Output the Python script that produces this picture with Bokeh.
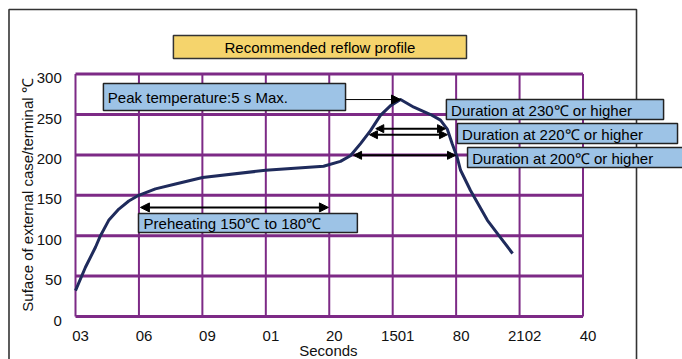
import math
from bokeh.plotting import figure
from bokeh.models import Range1d, Arrow, NormalHead
from bokeh.core.properties import value
from bokeh.embed import file_html
from bokeh.resources import INLINE

# ---- data ----
time_s = [30.0, 34.7, 39.5, 41.8, 45.7, 50.5, 55.2, 59.9, 67.8, 77.3,
          90.1, 119.9, 147.3, 155.3, 160.0, 164.8, 169.5, 174.2, 179.0, 183.7,
          190.0, 197.9, 202.6, 205.8, 208.1, 210.5, 212.1, 216.8, 224.8, 230.9,
          236.7]
temp_c = [32, 61, 86, 100, 119, 133, 143, 150, 158, 164,
          172, 181, 186, 192, 199, 214, 230, 249, 261, 268.5,
          259, 250, 243, 232, 214, 197, 181, 156, 119, 98,
          78]

x_ticks = [30, 60, 90, 120, 150, 180, 210, 240, 270]
x_labels = ["03", "06", "09", "01", "20", "1501", "80", "2102", "40"]
y_ticks = [0, 50, 100, 150, 200, 250, 300]
y_labels = ["0", "50", "100", "150", "200", "250", "300"]

title_text = "Recommended reflow profile"
peak_text = "Peak temperature:5 s  Max."
peak_time = 183.7
peak_temp = 268.5
preheat_text = "Preheating 150\u2103 to 180\u2103"
preheat_span = [60.7, 149.6]
preheat_level = 135.0
dur_texts = ["Duration at 230\u2103 or higher",
             "Duration at 220\u2103 or higher",
             "Duration at 200\u2103 or higher"]
dur_levels = [232.5, 225.0, 199.5]
dur_starts = [172.0, 169.0, 161.5]
dur_ends = [205.0, 205.9, 209.7]

FONT = value("Liberation Sans")
FS = "15px"
GRID = "#7d2a86"
BOX = "#9dc3e6"

p = figure(width=682, height=359, output_backend="svg", toolbar_location=None,
           x_range=Range1d(-5.468, 317.05), y_range=Range1d(-53.2, 391.1),
           x_axis_location=None, y_axis_location=None, min_border=0)
p.grid.visible = False
p.outline_line_color = None
p.background_fill_color = "white"
p.border_fill_color = "white"

# outer frame
p.quad(left=[-1.45], right=[295.3], top=[380.0], bottom=[-80],
       fill_color=None, line_color="#333333", line_width=1.6)

# grid
p.segment(x0=x_ticks, x1=x_ticks, y0=[y_ticks[0]] * len(x_ticks), y1=[y_ticks[-1]] * len(x_ticks),
          line_color=GRID, line_width=2)
p.segment(x0=[x_ticks[0]] * len(y_ticks), x1=[x_ticks[-1]] * len(y_ticks), y0=y_ticks, y1=y_ticks,
          line_color=GRID, line_width=3)

# tick labels
p.text(x=[x + 2.4 for x in x_ticks], y=[-24.5] * len(x_ticks), text=x_labels,
       text_font=FONT, text_font_size=FS, text_align="center", text_baseline="middle",
       text_color="#111111")
p.text(x=[23.5] * len(y_ticks), y=[v - 5 for v in y_ticks], text=y_labels,
       text_font=FONT, text_font_size=FS, text_align="right", text_baseline="middle",
       text_color="#111111")
p.text(x=[149.6], y=[-42.5], text=["Seconds"], text_font=FONT, text_font_size=FS,
       text_align="center", text_baseline="middle", text_color="#111111")
p.text(x=[7.3], y=[153.0], text=["Suface of external  case/terminal \u2103"], angle=math.pi / 2,
       text_font=FONT, text_font_size=FS, text_align="center", text_baseline="middle",
       text_color="#111111")

# title box
p.quad(left=[76.3], right=[214.9], top=[347.8], bottom=[319.3],
       fill_color="#f5d46c", line_color="#333333", line_width=1.5)
p.text(x=[145.6], y=[333.5], text=[title_text], text_font=FONT, text_font_size=FS,
       text_align="center", text_baseline="middle", text_color="black")

# curve
p.line(time_s, temp_c, line_color="#1f2b5c", line_width=3, line_join="round")

# arrows
p.add_layout(Arrow(x_start=157.7, y_start=peak_temp, x_end=peak_time, y_end=peak_temp,
                   line_color="black", line_width=1,
                   end=NormalHead(size=9, fill_color="black", line_color="black")))
for lv, s0, s1 in zip(dur_levels, dur_starts, dur_ends):
    p.add_layout(Arrow(x_start=s0, y_start=lv, x_end=s1, y_end=lv,
                       line_color="black", line_width=2,
                       start=NormalHead(size=8, fill_color="black", line_color="black"),
                       end=NormalHead(size=8, fill_color="black", line_color="black")))
p.add_layout(Arrow(x_start=preheat_span[0], y_start=preheat_level, x_end=preheat_span[1],
                   y_end=preheat_level, line_color="black", line_width=2,
                   start=NormalHead(size=9, fill_color="black", line_color="black"),
                   end=NormalHead(size=9, fill_color="black", line_color="black")))

# annotation boxes
p.quad(left=[43.2], right=[157.7], top=[288.4], bottom=[255.0],
       fill_color=BOX, line_color="#222222", line_width=1.5)
p.text(x=[45.3], y=[270.5], text=[peak_text], text_font=FONT, text_font_size=FS,
       text_align="left", text_baseline="middle", text_color="black")

p.quad(left=[59.8], right=[163.3], top=[127.5], bottom=[104.0],
       fill_color=BOX, line_color="#222222", line_width=1.5)
p.text(x=[62.2], y=[115.2], text=[preheat_text], text_font=FONT, text_font_size=FS,
       text_align="left", text_baseline="middle", text_color="black")

box_left = [205.4, 210.6, 215.4]
box_right = [308.1, 314.7, 330.0]
box_top = [268.6, 238.9, 209.2]
box_bottom = [243.8, 214.1, 184.4]
for t, l, r, tp, bt in zip(dur_texts, box_left, box_right, box_top, box_bottom):
    p.quad(left=[l], right=[r], top=[tp], bottom=[bt],
           fill_color=BOX, line_color="#222222", line_width=1.5)
    p.text(x=[l + 2.2], y=[(tp + bt) / 2 - 0.8], text=[t], text_font=FONT, text_font_size=FS,
           text_align="left", text_baseline="middle", text_color="black")

open("out.html", "w").write(file_html(p, INLINE))
